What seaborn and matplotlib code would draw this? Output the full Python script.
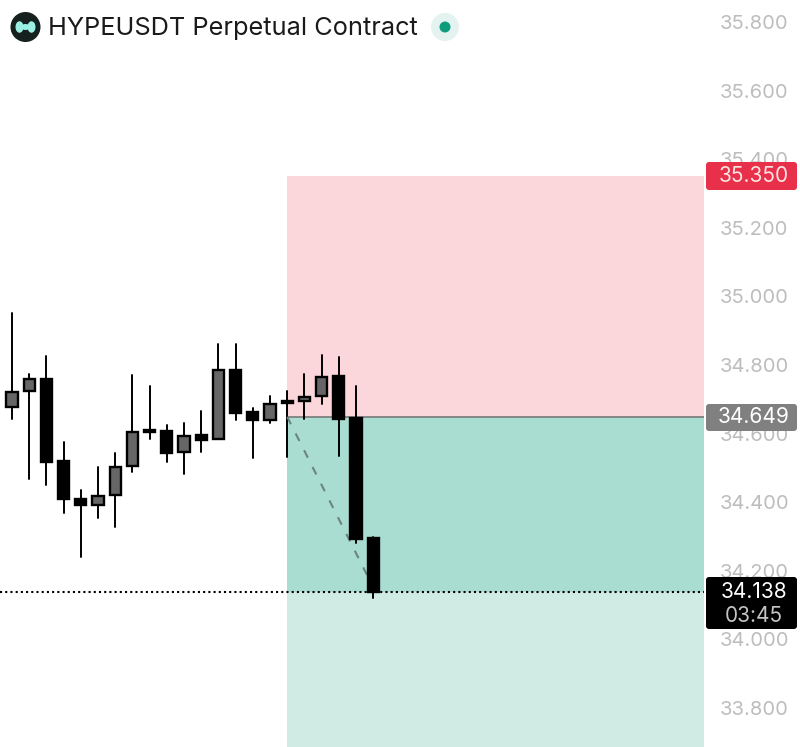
import numpy as np
import pandas as pd
import matplotlib
matplotlib.use("Agg")
import matplotlib.pyplot as plt
import seaborn as sns
from matplotlib.patches import FancyBboxPatch, Ellipse, Circle

# ── data ──────────────────────────────────────────────────────────────────────
opens  = [34.678, 34.724, 34.759, 34.520, 34.409, 34.392, 34.421, 34.506, 34.611, 34.608, 34.546,
          34.596, 34.584, 34.785, 34.663, 34.640, 34.695, 34.695, 34.710, 34.768, 34.645, 34.296]
closes = [34.721, 34.759, 34.517, 34.409, 34.392, 34.418, 34.503, 34.605, 34.605, 34.543, 34.593,
          34.581, 34.785, 34.660, 34.640, 34.686, 34.689, 34.707, 34.765, 34.643, 34.293, 34.138]
highs  = [34.952, 34.774, 34.826, 34.576, 34.436, 34.503, 34.543, 34.771, 34.739, 34.625, 34.631,
          34.666, 34.861, 34.861, 34.675, 34.710, 34.724, 34.774, 34.829, 34.823, 34.739, 34.299]
lows   = [34.643, 34.468, 34.450, 34.369, 34.240, 34.354, 34.328, 34.488, 34.584, 34.517, 34.482,
          34.546, 34.584, 34.640, 34.529, 34.631, 34.532, 34.643, 34.686, 34.535, 34.281, 34.121]

tick_prices = [35.8, 35.6, 35.4, 35.2, 35.0, 34.8, 34.6, 34.4, 34.2, 34.0, 33.8]
entry_price = 34.649
stop_price = 35.350
last_price = 34.138
countdown = "03:45"
title = "HYPEUSDT Perpetual Contract"

# where the position box starts and how the dashed trade line runs
box_start = 16
trade_x = [16, 20.64]
trade_y = [34.649, 34.188]

# ── scales: candle spacing 17.2 px, 343 px per price unit ─────────────────────
W, H = 800, 747
plot_w = 704
xlim = (-12 / 17.2, (plot_w - 12) / 17.2)
ylim = (35.8 - (H - 22) / 343, 35.8 + 22 / 343)

sns.set_theme(style="white")
plt.rcParams["font.family"] = ["Inter", "DejaVu Sans"]

fig = plt.figure(figsize=(W / 100, H / 100), dpi=100, facecolor="white")
ax = fig.add_axes([0, 0, plot_w / W, 1])

df = pd.DataFrame({"open": opens, "close": closes, "high": highs, "low": lows})
df["idx"] = np.arange(len(df))
df["body"] = (df["close"] - df["open"]).abs()
df["bottom"] = df[["open", "close"]].min(axis=1)
df["up"] = df["close"] > df["open"]

# ── position boxes ────────────────────────────────────────────────────────────
ax.fill_between([box_start, xlim[1]], entry_price, stop_price, color="#fbd6da", lw=0, zorder=1)
ax.fill_between([box_start, xlim[1]], last_price, entry_price, color="#a9ddd2", lw=0, zorder=1)
ax.fill_between([box_start, xlim[1]], ylim[0], last_price, color="#d0ebe4", lw=0, zorder=1)
ax.plot([box_start, xlim[1]], [entry_price, entry_price], color="#808080", lw=1.3, zorder=2)

# ── candles ───────────────────────────────────────────────────────────────────
wicks = pd.concat([
    df[["idx", "high"]].rename(columns={"high": "price"}),
    df[["idx", "low"]].rename(columns={"low": "price"}),
])
sns.lineplot(data=wicks, x="idx", y="price", units="idx", estimator=None,
             color="black", lw=1.4, ax=ax, zorder=3, legend=False)

for is_up, fill in [(True, "#666666"), (False, "#000000")]:
    sub = df[df["up"] == is_up]
    sns.barplot(data=sub, x="idx", y="body", bottom=sub["bottom"].values, native_scale=True,
                color=fill, saturation=1, width=0.66, edgecolor="black", linewidth=1.7,
                errorbar=None, ax=ax, zorder=4)

sns.lineplot(x=trade_x, y=trade_y, color="#6a8580", lw=1.5, ax=ax, zorder=3.5,
             linestyle=(0, (4, 5)), legend=False)
ax.plot([xlim[0], xlim[1]], [last_price, last_price], color="black", lw=1.5,
        linestyle=(0, (1, 1.5)), zorder=5)

# ── axes ──────────────────────────────────────────────────────────────────────
ax.set_xlim(*xlim)
ax.set_ylim(*ylim)
ax.set_xlabel("")
ax.set_ylabel("")
ax.set_xticks([])
ax.yaxis.tick_right()
ax.set_yticks(tick_prices)
ax.set_yticklabels([f"{p:.3f}" for p in tick_prices], fontsize=14.5, color="#bdbdbd")
ax.tick_params(axis="y", length=0, pad=11.3)
sns.despine(ax=ax, left=True, bottom=True, right=True, top=True)

# ── overlay in pixel coordinates: tags and header ─────────────────────────────
ov = fig.add_axes([0, 0, 1, 1], zorder=5)
ov.set_xlim(0, W)
ov.set_ylim(H, 0)
ov.axis("off")


def tag(y0, y1, color):
    ov.add_patch(FancyBboxPatch((709, y0 + 3), 85, y1 - y0 - 6, boxstyle="round,pad=3,rounding_size=3",
                                fc=color, ec="none"))


tag(162, 190, "#e8304a")
ov.text(753.5, 176.5, f"{stop_price:.3f}", color="#fde3e3", fontsize=15, ha="center", va="center")
tag(404, 431, "#808080")
ov.text(753.5, 417, f"{entry_price:.3f}", color="white", fontsize=15, ha="center", va="center")
tag(577, 629, "black")
ov.text(753.5, 592.5, f"{last_price:.3f}", color="white", fontsize=15, ha="center", va="center")
ov.text(753.5, 615.5, countdown, color="#c4c4c4", fontsize=15, ha="center", va="center")

# logo
ov.add_patch(Circle((25.5, 27), 15, fc="#15201f", ec="none"))
ov.add_patch(Ellipse((19.5, 27), 8, 11.5, fc="#9cf0e3", ec="none"))
ov.add_patch(Ellipse((31.5, 27), 8, 11.5, fc="#9cf0e3", ec="none"))
ov.add_patch(Ellipse((25.5, 27), 9, 6, fc="#9cf0e3", ec="none"))

ov.text(48, 28.5, title, color="#1a1a1a", fontsize=18.25, ha="left", va="center")

# live status dot
ov.add_patch(Circle((445, 27), 14, fc="#e4f3ef", ec="none"))
ov.add_patch(Circle((445, 27), 5.5, fc="#0d9c7c", ec="none"))

fig.savefig("out.png", dpi=100, facecolor="white")
